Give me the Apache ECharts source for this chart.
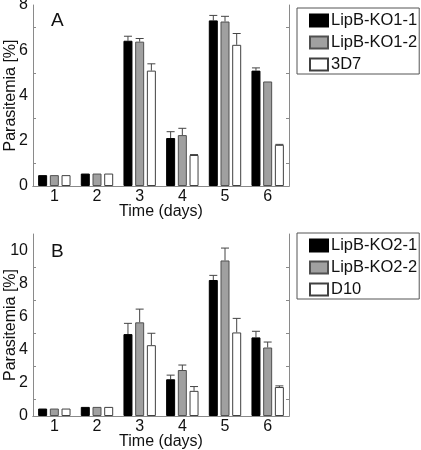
<!DOCTYPE html>
<html><head><meta charset="utf-8">
<script src="https://cdn.jsdelivr.net/npm/echarts@6/dist/echarts.min.js"></script>
<style>html,body{margin:0;padding:0;background:#fff}#c{width:421px;height:450px}</style>
</head><body><div id="c"></div>
<script>
const days = ['1','2','3','4','5','6'];
// Panel A
const namesA = ['LipB-KO1-1','LipB-KO1-2','3D7'];
const ko1_1 = [0.48, 0.55, 6.42, 2.12, 7.32, 5.10];
const ko1_1Err = [0, 0, 0.20, 0.28, 0.22, 0.12];
const ko1_2 = [0.48, 0.55, 6.38, 2.25, 7.27, 4.62];
const ko1_2Err = [0, 0, 0.14, 0.30, 0.23, 0];
const d3d7 = [0.48, 0.55, 5.10, 1.37, 6.24, 1.82];
const d3d7Err = [0, 0, 0.30, 0.02, 0.50, 0.02];
// Panel B
const namesB = ['LipB-KO2-1','LipB-KO2-2','D10'];
const ko2_1 = [0.45, 0.55, 4.95, 2.22, 8.22, 4.75];
const ko2_1Err = [0, 0, 0.65, 0.25, 0.28, 0.37];
const ko2_2 = [0.45, 0.55, 5.66, 2.78, 9.40, 4.14];
const ko2_2Err = [0, 0, 0.80, 0.30, 0.75, 0.33];
const d10 = [0.45, 0.55, 4.28, 1.52, 5.05, 1.75];
const d10Err = [0, 0, 0.72, 0.26, 0.85, 0.07];

const FONT = 'Liberation Sans';
const FS = 16;
const fills = ['#000000', '#a0a0a0', '#ffffff'];
const borders = ['#000000', '#505050', '#404040'];
const BW = 9, GAP = 2.7;

function barSeries(name, data, k, gi) {
  return {
    name: name, type: 'bar', xAxisIndex: gi * 2, yAxisIndex: gi * 2,
    data: data, barWidth: BW, barGap: '30%',
    itemStyle: {color: fills[k], borderColor: borders[k], borderWidth: 1},
    silent: true, z: 2
  };
}
function errSeries(vals, errs, k, gi) {
  const d = vals.map((v, i) => [i, v, v + errs[i]]);
  return {
    type: 'custom', xAxisIndex: gi * 2, yAxisIndex: gi * 2, data: d, z: 1, silent: true,
    renderItem: function (params, api) {
      if (api.value(2) - api.value(1) <= 0) return null;
      const base = api.coord([api.value(0), api.value(1)]);
      const top = api.coord([api.value(0), api.value(2)]);
      const x = base[0] + (k - 1) * (BW + GAP);
      const hw = BW / 2 - 0.5;
      const st = {stroke: '#444', lineWidth: 1};
      return {type: 'group', children: [
        {type: 'line', shape: {x1: x, y1: base[1], x2: x, y2: top[1]}, style: st},
        {type: 'line', shape: {x1: x - hw, y1: top[1], x2: x + hw, y2: top[1]}, style: st}
      ]};
    },
    encode: {x: 0, y: [1, 2]}
  };
}

const frame = {lineStyle: {color: '#8a8a8a', width: 1}};
function xAxes(gi) {
  return [
    {type: 'category', gridIndex: gi, data: days, position: 'bottom',
     axisLine: frame, axisTick: {inside: true, length: 5, lineStyle: {color: '#8a8a8a'}},
     axisLabel: {color: '#111', fontFamily: FONT, fontSize: FS, margin: 3},
     name: 'Time (days)', nameLocation: 'middle', nameGap: 18, nameMoveOverlap: false,
     nameTextStyle: {color: '#111', fontFamily: FONT, fontSize: FS}},
    {type: 'category', gridIndex: gi, data: days, position: 'top',
     axisLine: frame, axisTick: {inside: true, length: 5, lineStyle: {color: '#8a8a8a'}},
     axisLabel: {show: false}}
  ];
}
function yAxes(gi, max) {
  const tick = {inside: true, length: 6, lineStyle: {color: '#8a8a8a'}};
  const minor = {show: true, splitNumber: 2, length: 3, lineStyle: {color: '#8a8a8a'}};
  return [
    {type: 'value', gridIndex: gi, min: 0, max: max, interval: 2, position: 'left',
     axisLine: Object.assign({show: true}, frame), axisTick: tick, minorTick: minor,
     splitLine: {show: false}, minorSplitLine: {show: false},
     axisLabel: {color: '#111', fontFamily: FONT, fontSize: FS, margin: 5,
                 showMaxLabel: max % 2 === 0},
     name: 'Parasitemia [%]', nameLocation: 'middle', nameGap: 14, nameRotate: 90,
     nameMoveOverlap: false,
     nameTextStyle: {color: '#111', fontFamily: FONT, fontSize: FS}},
    {type: 'value', gridIndex: gi, min: 0, max: max, interval: 2, position: 'right',
     axisLine: Object.assign({show: true}, frame), axisTick: tick, minorTick: minor,
     splitLine: {show: false}, minorSplitLine: {show: false}, axisLabel: {show: false}}
  ];
}
function legendFor(names, top) {
  return {
    orient: 'vertical', left: 297, top: top,
    data: names, icon: 'rect', itemWidth: 18, itemHeight: 12, itemGap: 5,
    borderColor: '#555', borderWidth: 1, padding: [4, 2, 1, 12],
    textStyle: {color: '#111', fontFamily: FONT, fontSize: 16.5, padding: [0, 0, 0, -2]},
    selectedMode: false
  };
}

const series = [
  barSeries(namesA[0], ko1_1, 0, 0), barSeries(namesA[1], ko1_2, 1, 0), barSeries(namesA[2], d3d7, 2, 0),
  errSeries(ko1_1, ko1_1Err, 0, 0), errSeries(ko1_2, ko1_2Err, 1, 0), errSeries(d3d7, d3d7Err, 2, 0),
  barSeries(namesB[0], ko2_1, 0, 1), barSeries(namesB[1], ko2_2, 1, 1), barSeries(namesB[2], d10, 2, 1),
  errSeries(ko2_1, ko2_1Err, 0, 1), errSeries(ko2_2, ko2_2Err, 1, 1), errSeries(d10, d10Err, 2, 1)
];

const chart = echarts.init(document.getElementById('c'), null, {renderer: 'canvas'});
chart.setOption({
  animation: false,
  backgroundColor: '#fff',
  grid: [
    {left: 33, top: 5, width: 256, height: 181, containLabel: false, outerBoundsMode: 'none'},
    {left: 33, top: 234, width: 256, height: 182, containLabel: false, outerBoundsMode: 'none'}
  ],
  xAxis: xAxes(0).concat(xAxes(1)).map((a, i) => Object.assign(a, {gridIndex: i < 2 ? 0 : 1})),
  yAxis: yAxes(0, 8).concat(yAxes(1, 11)).map((a, i) => Object.assign(a, {gridIndex: i < 2 ? 0 : 1})),
  legend: [legendFor(namesA, 8), legendFor(namesB, 233)],
  graphic: [
    {type: 'text', left: 51, top: 11, style: {text: 'A', font: '19px "Liberation Sans"', fill: '#111'}},
    {type: 'text', left: 51, top: 242, style: {text: 'B', font: '19px "Liberation Sans"', fill: '#111'}}
  ],
  series: series
});
</script>
</body></html>
